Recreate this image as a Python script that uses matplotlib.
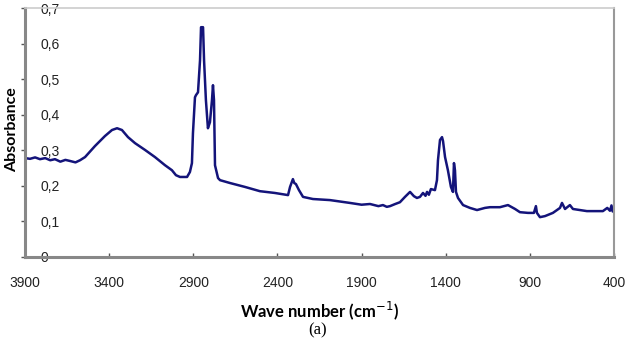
import matplotlib.pyplot as plt
from matplotlib.ticker import FixedLocator

# FTIR spectrum (wave number in cm-1, absorbance)
wave_number = [3900, 3870, 3840, 3811, 3780, 3750, 3722, 3690, 3660, 3633, 3600, 3573,
               3543, 3484, 3425, 3383, 3353, 3324, 3288, 3246, 3187, 3128, 3068,
               3027, 3003, 2979, 2937, 2920, 2908, 2902, 2890, 2884, 2872, 2860,
               2854, 2842, 2836, 2825, 2813, 2801, 2789, 2783, 2777, 2771, 2753,
               2741, 2682, 2593, 2504, 2415, 2337, 2325, 2308, 2300, 2290, 2272,
               2248, 2189, 2088, 1969, 1900, 1850, 1800, 1773, 1750, 1731, 1700,
               1672, 1642, 1612, 1589, 1571, 1553, 1535, 1520, 1511, 1500, 1488,
               1464, 1452, 1446, 1434, 1422, 1416, 1404, 1387, 1369, 1357, 1351,
               1345, 1339, 1327, 1297, 1256, 1214, 1167, 1137, 1078, 1030, 988,
               959, 911, 876, 864, 858, 840, 810, 763, 721, 709, 691, 662, 644,
               561, 466, 440, 424, 415, 408, 400]
absorbance = [0.278, 0.276, 0.280, 0.275, 0.278, 0.272, 0.275, 0.268, 0.273, 0.270, 0.266, 0.272,
              0.281, 0.312, 0.340, 0.357, 0.362, 0.357, 0.337, 0.320, 0.301, 0.281, 0.258,
              0.244, 0.230, 0.225, 0.225, 0.239, 0.264, 0.348, 0.449, 0.455, 0.463, 0.553,
              0.646, 0.646, 0.553, 0.441, 0.362, 0.379, 0.441, 0.483, 0.441, 0.258, 0.222,
              0.216, 0.208, 0.197, 0.185, 0.180, 0.174, 0.197, 0.219, 0.208, 0.205, 0.188,
              0.169, 0.163, 0.160, 0.152, 0.147, 0.149, 0.143, 0.146, 0.141, 0.143, 0.149,
              0.154, 0.169, 0.183, 0.171, 0.166, 0.169, 0.180, 0.172, 0.183, 0.175, 0.191,
              0.188, 0.216, 0.272, 0.329, 0.337, 0.326, 0.281, 0.244, 0.197, 0.183, 0.264,
              0.244, 0.183, 0.166, 0.146, 0.138, 0.132, 0.138, 0.140, 0.140, 0.146, 0.135,
              0.126, 0.124, 0.124, 0.143, 0.124, 0.112, 0.115, 0.124, 0.138, 0.152, 0.135, 0.146, 0.135,
              0.129, 0.129, 0.138, 0.130, 0.145, 0.128, 0.138]

x_ticks = [3900, 3400, 2900, 2400, 1900, 1400, 900, 400]
y_ticks = [0, 0.1, 0.2, 0.3, 0.4, 0.5, 0.6, 0.7]
y_labels = ['0', '0,1', '0,2', '0,3', '0,4', '0,5', '0,6', '0,7']

fig = plt.figure(figsize=(6.26, 3.57), dpi=100)
ax = fig.add_axes([25 / 626, 1 - 257 / 357, 589 / 626, 249 / 357])

ax.plot(wave_number, absorbance, color='#14147a', lw=1.8)

ax.set_xlim(3900, 400)
ax.set_ylim(0, 0.7)

ax.set_xticks(x_ticks)
ax.set_xticklabels([str(t) for t in x_ticks], fontsize=10, family='Liberation Sans', color='#222222')
ax.set_yticks(y_ticks)
ax.set_yticklabels(y_labels, fontsize=10, family='Liberation Sans', ha='left', color='#222222')

ax.tick_params(axis='y', direction='out', length=3, width=1, color='#555555', pad=-14)
ax.tick_params(axis='x', direction='in', length=3, width=1, color='#555555', pad=14)
# dark mark near 900 on the axis
ax.xaxis.set_minor_locator(FixedLocator([900]))
ax.tick_params(axis='x', which='minor', direction='in', length=4, width=2.5, color='black')

for side in ['left', 'bottom']:
    ax.spines[side].set_color('#888888')
    ax.spines[side].set_linewidth(2.2)
ax.spines['top'].set_color('#cccccc')
ax.spines['top'].set_linewidth(1.2)
ax.spines['right'].set_color('#999999')
ax.spines['right'].set_linewidth(1.5)

fig.text(12 / 626, 1 - 130 / 357, 'Absorbance', rotation=90, ha='center', va='center',
         fontsize=11.5, fontweight='bold', family='Lato')
fig.text(320 / 626, 1 - 311 / 357, 'Wave number (cm$^{-1}$)', ha='center', va='center',
         fontsize=12, fontweight='bold', family='Lato')
fig.text(318 / 626, 1 - 330 / 357, '(a)', ha='center', va='center',
         fontsize=12, family='Liberation Serif')

fig.savefig('out.png', dpi=100)
